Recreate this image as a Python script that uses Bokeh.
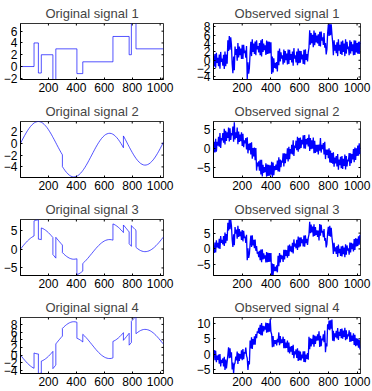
import math
from bokeh.plotting import figure
from bokeh.layouts import column, row
from bokeh.models import Range1d, FixedTicker
from bokeh.embed import file_html
from bokeh.resources import INLINE

# ---------------- data ----------------
titles = ["Original signal 1", "Observed signal 1",
          "Original signal 2", "Observed signal 2",
          "Original signal 3", "Observed signal 3",
          "Original signal 4", "Observed signal 4"]

x_ticks = [200, 400, 600, 800, 1000]
x_limits = (0, 1024)

# Original signal 1: piecewise constant blocks
orig1_x = [0, 97, 97, 128, 128, 149, 149, 232, 232, 253, 253, 404, 404, 446, 446,
           662, 662, 778, 778, 794, 794, 827, 827, 1024]
orig1_y = [0, 0, 4, 4, -1.1, -1.1, 2, 2, -2.5, -2.5, 3, 3, -1.2, -1.2, 0.8, 0.8,
           5.1, 5.1, 2, 2, 7.5, 7.5, 3, 3]

# Sample positions for original signals 2-4 (jumps listed twice)
orig_x = [0, 10, 20, 30, 40, 50, 60, 70, 80, 90,
          97, 97, 100, 110, 120, 128, 128, 130, 140, 149, 149,
          150, 160, 170, 180, 190, 200, 210, 220, 230,
          232, 232, 240, 250, 253, 253,
          260, 270, 280, 290, 300, 300,
          310, 320, 330, 340, 350, 360, 370, 380, 390, 400,
          404, 404, 410, 420, 430, 440, 446, 446,
          450, 460, 470, 480, 490, 500, 510, 520, 530, 540, 550,
          560, 570, 580, 590, 600, 610, 620, 630, 640, 650, 660,
          662, 662,
          670, 680, 690, 700, 710, 720, 730,
          737, 737,
          740, 750, 760, 770,
          778, 778, 780, 790, 794, 794,
          800, 810, 820, 827, 827,
          830, 840, 850, 860, 870, 880, 890, 900, 910, 920,
          930, 940, 950, 960, 970, 980, 990, 1000, 1010, 1020,
          1024]

orig2_y = [0, 0.45, 0.90, 1.34, 1.75, 2.14, 2.49, 2.81, 3.08, 3.31,
           3.44, 3.44, 3.49, 3.61, 3.68, 3.70, 3.70, 3.70, 3.66, 3.57, 3.57,
           3.56, 3.41, 3.20, 2.95, 2.66, 2.32, 1.95, 1.55, 1.12,
           1.03, 1.03, 0.68, 0.23, 0.09, 0.09,
           -0.23, -0.68, -1.12, -1.55, -1.95, -3.95,
           -4.32, -4.66, -4.95, -5.20, -5.41, -5.56, -5.66, -5.70, -5.68, -5.61,
           -5.57, -5.57, -5.49, -5.31, -5.08, -4.81, -4.62, -4.62,
           -4.49, -4.14, -3.75, -3.34, -2.90, -2.45, -2.00, -1.55, -1.10, -0.66, -0.25,
           0.14, 0.49, 0.81, 1.08, 1.31, 1.49, 1.61, 1.68, 1.70, 1.66, 1.56,
           1.53, 1.53,
           1.41, 1.20, 0.95, 0.66, 0.32, -0.05, -0.45,
           -0.75, 1.25,
           1.12, 0.68, 0.23, -0.23,
           -0.59, -0.59, -0.68, -1.12, -1.29, -1.29,
           -1.55, -1.95, -2.32, -2.56, -2.56,
           -2.66, -2.95, -3.20, -3.41, -3.56, -3.66, -3.70, -3.68, -3.61, -3.49,
           -3.31, -3.08, -2.81, -2.49, -2.14, -1.75, -1.34, -0.90, -0.45, 0.00,
           0.18]

orig3_y = [0, 0.45, 0.90, 1.34, 1.75, 2.14, 2.49, 2.81, 3.08, 3.31,
           3.44, 7.44, 7.49, 7.61, 7.68, 7.70, 2.60, 2.60, 2.56, 2.47, 5.57,
           5.56, 5.41, 5.20, 4.95, 4.66, 4.32, 3.95, 3.55, 3.12,
           3.03, -1.47, -1.82, -2.27, -2.41, 3.09,
           2.77, 2.32, 1.88, 1.45, 1.05, -0.95,
           -1.32, -1.66, -1.95, -2.20, -2.41, -2.56, -2.66, -2.70, -2.68, -2.61,
           -2.57, -6.77, -6.69, -6.51, -6.28, -6.01, -5.82, -3.82,
           -3.69, -3.34, -2.95, -2.54, -2.10, -1.65, -1.20, -0.75, -0.30, 0.14, 0.55,
           0.94, 1.29, 1.61, 1.88, 2.11, 2.29, 2.41, 2.48, 2.50, 2.46, 2.36,
           2.33, 6.63,
           6.51, 6.30, 6.05, 5.76, 5.42, 5.05, 4.65,
           4.35, 6.35,
           6.22, 5.78, 5.33, 4.87,
           4.51, 1.41, 1.32, 0.88, 0.71, 6.21,
           5.95, 5.55, 5.18, 4.94, 0.44,
           0.34, 0.05, -0.20, -0.41, -0.56, -0.66, -0.70, -0.68, -0.61, -0.49,
           -0.31, -0.08, 0.19, 0.51, 0.86, 1.25, 1.66, 2.10, 2.55, 3.00,
           3.18]

orig4_y = [0, -0.45, -0.90, -1.34, -1.75, -2.14, -2.49, -2.81, -3.08, -3.31,
           -3.44, 0.56, 0.51, 0.39, 0.32, 0.30, -4.80, -4.80, -4.76, -4.67, -1.57,
           -1.56, -1.41, -1.20, -0.95, -0.66, -0.32, 0.05, 0.45, 0.88,
           0.97, -3.53, -3.18, -2.73, -2.59, 2.91,
           3.23, 3.68, 4.12, 4.55, 4.95, 6.95,
           7.32, 7.66, 7.95, 8.20, 8.41, 8.56, 8.66, 8.70, 8.68, 8.61,
           8.57, 4.37, 4.29, 4.11, 3.88, 3.61, 3.42, 5.42,
           5.29, 4.94, 4.55, 4.14, 3.70, 3.25, 2.80, 2.35, 1.90, 1.46, 1.05,
           0.66, 0.31, -0.01, -0.28, -0.51, -0.69, -0.81, -0.88, -0.90, -0.86, -0.76,
           -0.73, 3.57,
           3.69, 3.90, 4.15, 4.44, 4.78, 5.15, 5.55,
           5.85, 3.85,
           3.98, 4.42, 4.87, 5.33,
           5.69, 2.59, 2.68, 3.12, 3.29, 8.79,
           9.05, 9.45, 9.82, 10.06, 5.56,
           5.66, 5.95, 6.20, 6.41, 6.56, 6.66, 6.70, 6.68, 6.61, 6.49,
           6.31, 6.08, 5.81, 5.49, 5.14, 4.75, 4.34, 3.90, 3.45, 3.00,
           2.82]

# Observed (noisy) signals, one value every 5 samples
obs_x = list(range(0, 1021, 5))

obs1_y = [1.1, -1.5, 1.5, -1.8, 1.8, -0.6, 0.6, -1.4, 1.4, -2.0,
          2.0, -0.4, 0.4, -1.3, 1.3, -2.1, 2.1, -1.4, 1.4, -0.8,
          4.8, 2.2, 5.8, 2.5, 5.5, 3.7, -0.8, -3.1, 0.9, -2.4,
          3.3, 1.3, 2.7, -0.1, 4.1, 0.7, 3.3, 1.2, 2.8, 0.3,
          3.7, 0.3, 3.7, 1.7, 2.3, 0.6, 3.4, -4.5, -0.5, -3.2,
          -1.8, 1.6, 4.4, 1.0, 5.0, 2.0, 4.0, 1.5, 4.5, 1.2,
          4.8, 2.6, 3.4, 1.9, 4.1, 1.2, 4.8, 0.9, 5.1, 2.0,
          4.0, 2.4, 3.6, 1.3, 4.7, 1.5, 4.5, 1.6, 4.4, 1.7,
          4.3, -3.3, 0.9, -2.9, 0.5, -1.8, -0.6, -2.0, -0.4, -2.7,
          2.3, -1.2, 2.8, -0.3, 1.9, 0.4, 1.2, -1.0, 2.6, -0.6,
          2.2, 0.0, 1.6, -1.0, 2.6, -0.9, 2.5, 0.1, 1.5, -0.5,
          2.1, -1.3, 2.9, 0.4, 1.2, -0.5, 2.1, -1.2, 2.8, -0.7,
          2.3, -0.6, 2.2, 0.2, 1.4, -0.9, 2.5, -1.0, 2.6, 0.1,
          1.5, -0.3, 1.9, 3.0, 7.2, 3.7, 6.5, 4.1, 6.1, 3.1,
          7.1, 3.6, 6.6, 4.3, 5.9, 4.0, 6.2, 3.4, 6.8, 3.3,
          6.9, 4.7, 5.5, 3.7, 6.5, 3.0, 4.1, 1.4, 2.6, 6.5,
          8.5, 5.8, 8.7, 6.0, 8.6, 6.2, 4.3, 1.2, 4.8, 2.3,
          3.7, 1.7, 4.3, 1.0, 5.0, 2.3, 3.7, 1.5, 4.5, 1.3,
          4.7, 2.0, 4.0, 1.0, 5.0, 1.6, 4.4, 2.7, 3.3, 1.2,
          4.8, 1.6, 4.4, 2.2, 3.8, 1.2, 4.8, 1.3, 4.7, 1.9,
          4.1, 1.6, 4.4, 1.5, 4.5]

obs2_y = [-1.1, 1.7, -1.1, 2.5, -0.9, 1.7, 0.7, 3.0, 0.4, 4.0,
          0.1, 2.7, 2.1, 4.0, 1.5, 5.1, 1.0, 4.6, 1.9, 4.2,
          2.7, 5.4, 1.8, 5.2, 2.2, 4.0, 3.4, 5.7, 1.7, 6.8,
          2.3, 4.2, 2.7, 5.4, 1.1, 4.4, 1.7, 3.6, 1.9, 4.2,
          0.6, 3.8, 0.3, 2.1, 1.3, 2.7, -0.3, 2.9, -1.3, 1.2,
          -0.5, 1.4, -1.6, 1.6, -2.7, 0.1, -2.1, 0.2, -3.1, 0.1,
          -5.8, -3.7, -4.7, -3.4, -5.8, -3.0, -6.8, -3.0, -7.3, -4.3,
          -6.4, -4.9, -6.2, -3.9, -7.4, -4.2, -7.2, -4.3, -7.1, -4.4,
          -6.9, -3.5, -7.5, -3.7, -7.0, -4.6, -5.7, -4.2, -5.6, -3.2,
          -6.0, -2.3, -6.1, -2.9, -4.9, -3.2, -3.7, -1.3, -4.7, -1.3,
          -3.9, -1.4, -2.8, 0.0, -3.4, 0.4, -2.8, -0.2, -1.4, 0.9,
          -1.6, 2.1, -2.0, 0.7, 0.1, 2.0, -0.5, 3.0, -0.9, 2.7,
          -0.2, 2.8, 0.1, 2.2, 1.0, 3.4, 0.0, 3.5, -0.1, 2.4,
          1.0, 2.7, 0.5, 3.6, -0.7, 2.7, -0.2, 2.1, -0.1, 2.8,
          -1.3, 2.0, -1.2, 0.9, -0.9, 0.9, -1.6, 1.0, -0.6, 2.7,
          -1.1, 0.9, -0.2, 1.4, -1.6, 1.7, -2.8, -0.3, -1.7, -0.3,
          -2.6, 0.0, -3.7, -0.6, -3.8, -1.2, -4.0, -1.0, -4.8, -2.4,
          -3.9, -2.0, -4.7, -1.5, -5.6, -2.9, -4.4, -2.2, -5.2, -2.0,
          -5.4, -2.7, -4.6, -1.6, -5.5, -2.0, -4.7, -2.9, -3.4, -1.2,
          -4.6, -1.3, -3.9, -1.5, -2.9, -0.2, -3.6, 0.2, -3.0, 0.0,
          -2.0, 0.7, -1.9, 1.3, -1.5]

obs3_y = [1.1, -1.3, 2.0, -1.1, 2.7, 0.5, 1.9, 0.2, 3.2, 0.0,
          4.1, 1.9, 2.9, 1.4, 4.1, 0.9, 5.2, 1.8, 4.7, 2.6,
          8.3, 5.8, 9.2, 6.2, 9.2, 7.4, 2.9, 0.6, 4.6, 1.2,
          6.9, 4.8, 6.1, 3.2, 7.3, 3.8, 6.3, 4.0, 5.5, 2.8,
          6.0, 2.4, 5.7, 3.5, 3.9, 1.9, 4.5, -3.6, 0.2, -2.8,
          -1.6, 1.6, 4.2, 0.6, 4.3, 1.1, 2.9, 0.2, 3.0, -0.6,
          0.9, -1.5, -0.9, -2.6, -0.6, -3.6, -0.2, -4.2, -0.1, -3.3,
          -1.4, -3.1, -2.0, -4.3, -1.0, -4.2, -1.2, -4.1, -1.3, -4.0,
          -1.3, -8.3, -4.6, -8.3, -4.8, -7.0, -5.7, -7.0, -5.2, -7.4,
          -2.2, -5.5, -1.3, -4.3, -1.9, -3.2, -2.1, -4.1, -0.3, -3.3,
          -0.3, -2.2, -0.4, -2.8, 1.1, -2.2, 1.4, -0.8, 0.8, -1.0,
          1.9, -1.4, 3.0, 0.7, 1.7, 0.2, 2.9, -0.3, 3.9, 0.5,
          3.6, 0.8, 3.7, 1.8, 3.0, 0.8, 4.2, 0.7, 4.3, 1.8,
          3.2, 1.3, 3.5, 4.5, 8.6, 5.0, 7.7, 5.2, 7.1, 3.9,
          7.8, 4.1, 6.9, 4.4, 5.9, 3.8, 5.8, 2.7, 7.9, 4.2,
          7.6, 5.2, 5.7, 3.7, 6.3, 2.6, 3.4, 0.5, 1.5, 5.2,
          7.0, 4.1, 7.3, 3.9, 6.7, 3.7, 1.6, -1.6, 1.9, -0.8,
          0.5, -1.6, 0.9, -2.5, 1.4, -1.3, 0.0, -2.2, 0.8, -2.4,
          1.0, -1.7, 0.4, -2.6, 1.5, -1.8, 1.1, -0.5, 0.2, -1.8,
          2.0, -1.1, 1.9, -0.1, 1.7, -0.8, 3.1, -0.3, 3.4, 0.8,
          3.2, 0.9, 4.0, 1.3, 4.5]

obs4_y = [-1.1, 1.3, -2.0, 1.1, -2.7, -0.5, -1.9, -0.2, -3.2, 0.0,
          -4.1, -1.9, -2.9, -1.4, -4.1, -0.9, -5.2, -1.8, -4.7, -2.6,
          -0.3, 2.2, -1.4, 1.9, -1.2, 0.6, -5.1, -2.8, -6.3, -3.4,
          -2.9, -0.8, -2.1, 0.8, -3.3, 0.2, -2.3, 0.0, -1.5, 1.2,
          -2.0, 1.6, -1.7, 0.6, 0.2, 2.1, -0.5, -1.4, -5.2, -2.3,
          -3.4, 4.4, 1.8, 5.5, 1.7, 4.9, 3.1, 5.8, 3.1, 6.6,
          5.2, 7.5, 6.9, 8.6, 6.6, 9.6, 6.2, 10.2, 6.1, 9.3,
          7.4, 9.1, 8.0, 10.3, 7.0, 10.2, 7.2, 10.1, 7.3, 11.5,
          7.3, 6.5, 2.2, 5.9, 2.4, 4.6, 3.3, 4.6, 2.8, 5.0,
          3.8, 7.1, 2.9, 5.9, 3.5, 4.8, 3.7, 5.7, 1.9, 4.9,
          1.9, 3.8, 2.0, 4.4, 0.6, 3.8, 0.2, 2.4, 0.8, 2.6,
          -0.3, 3.0, -1.4, 0.9, -0.1, 1.5, -1.3, 1.9, -2.3, 1.1,
          -2.0, 0.8, -2.1, -0.2, -1.4, 0.9, -2.6, 0.9, -2.7, -0.2,
          -1.6, 0.3, -1.9, 5.7, 1.6, 5.2, 2.5, 5.0, 3.2, 6.3,
          2.4, 6.1, 3.3, 5.8, 4.4, 6.5, 4.5, 7.5, 2.3, 6.0,
          2.6, 5.1, 4.5, 6.5, 3.9, 7.7, 0.6, 3.5, 2.5, 9.8,
          8.1, 11.0, 7.8, 11.1, 8.3, 11.3, 4.4, 7.6, 4.2, 6.8,
          5.5, 7.6, 5.1, 8.5, 4.6, 7.3, 6.0, 8.2, 5.2, 8.4,
          5.0, 7.7, 5.6, 8.6, 4.5, 7.8, 4.9, 6.5, 5.8, 7.8,
          4.0, 7.1, 4.1, 6.1, 4.3, 6.8, 3.0, 6.3, 2.6, 5.2,
          2.8, 5.1, 2.1, 4.7, 1.5]

y_ranges = [(-2.2, 7.3), (-4.6, 8.8),
            (-5.8, 3.7), (-7.6, 7.0),
            (-7.0, 7.8), (-8.4, 9.3),
            (-4.8, 9.8), (-6.4, 12.0)]

y_ticks = [[-2, 0, 2, 4, 6], [-4, -2, 0, 2, 4, 6, 8],
           [-4, -2, 0, 2], [-5, 0, 5],
           [-5, 0, 5], [-5, 0, 5],
           [-4, -2, 0, 2, 4, 6, 8], [-5, 0, 5, 10]]

series = [(orig1_x, orig1_y), (obs_x, obs1_y),
          (orig_x, orig2_y), (obs_x, obs2_y),
          (orig_x, orig3_y), (obs_x, obs3_y),
          (orig_x, orig4_y), (obs_x, obs4_y)]

# ---------------- figures ----------------
FONT = "Liberation Sans"
row_heights = [98, 98, 98, 97]

figs = []
for i in range(8):
    r, c = divmod(i, 2)
    left, right = (16, 23) if c == 0 else (27, 12)
    h = row_heights[r]
    bottom = h - 20 - 59
    y0, y1 = y_ranges[i]
    p = figure(width=186, height=h, title=titles[i],
               x_range=Range1d(*x_limits), y_range=Range1d(y0, y1),
               output_backend="svg", toolbar_location=None,
               min_border_left=left, min_border_right=right,
               min_border_top=20, min_border_bottom=bottom)
    p.title.text_font = FONT
    p.title.text_font_size = "13px"
    p.title.text_font_style = "normal"
    p.title.align = "center"
    p.title.standoff = 6
    p.title.offset = 0
    p.xgrid.visible = False
    p.ygrid.visible = False
    p.outline_line_color = "black"
    p.outline_line_alpha = 0.8
    p.background_fill_color = "white"
    p.border_fill_color = "white"
    p.xaxis.ticker = FixedTicker(ticks=x_ticks)
    p.yaxis.ticker = FixedTicker(ticks=y_ticks[i])
    for ax in (p.xaxis[0], p.yaxis[0]):
        ax.major_tick_in = 2
        ax.major_tick_out = 0
        ax.minor_tick_in = 0
        ax.minor_tick_out = 0
        ax.axis_line_color = "black"
        ax.major_tick_line_color = "black"
        ax.major_label_text_font = FONT
        ax.major_label_text_font_size = "12px"
        ax.major_label_text_color = "black"
        ax.major_label_standoff = 3
    # inward tick marks on the top and right edges of the box (half clipped by the frame)
    p.scatter(x_ticks, [y1] * len(x_ticks), marker="dash", angle=math.pi / 2,
              size=4, line_color="black", line_width=1)
    p.scatter([x_limits[1]] * len(y_ticks[i]), y_ticks[i], marker="dash",
              size=4, line_color="black", line_width=1)
    xs, ys = series[i]
    if c == 0:
        p.line(xs, ys, line_color="blue", line_width=0.8, line_alpha=0.85)
    else:
        p.line(xs, ys, line_color="blue", line_width=1.3)
    figs.append(p)

layout = column(row(figs[0], figs[1]), row(figs[2], figs[3]),
                row(figs[4], figs[5]), row(figs[6], figs[7]),
                styles={"position": "absolute", "left": "0px", "top": "0px"})

open("out.html", "w").write(file_html(layout, INLINE))
